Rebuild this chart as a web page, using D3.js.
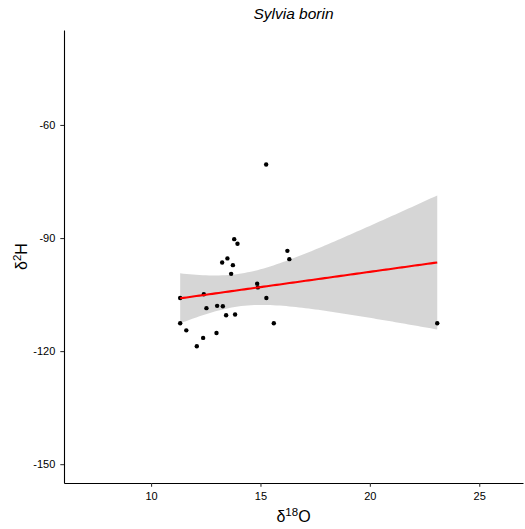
<!DOCTYPE html>
<html><head><meta charset="utf-8">
<script src="https://cdn.jsdelivr.net/npm/d3@7"></script>
<style>body{margin:0;background:#fff;} text{font-family:"Liberation Sans",Arial,sans-serif;}</style>
</head><body>
<svg id="c" width="525" height="529"></svg>
<script>
const title = "Sylvia borin";
const d18O = [15.26,13.80,13.95,16.23,16.32,13.49,13.25,13.74,13.66,14.85,14.88,12.41,11.33,15.27,12.53,13.02,13.28,13.43,13.84,11.33,15.61,11.61,12.99,12.38,12.09,23.08];
const d2H  = [-70.5,-90.3,-91.5,-93.4,-95.6,-95.4,-96.5,-97.2,-99.5,-102.1,-103.1,-104.9,-105.9,-105.9,-108.6,-108.0,-108.1,-110.5,-110.3,-112.6,-112.6,-114.5,-115.2,-116.5,-118.7,-112.6];
const xTicks = [10,15,20,25];
const yTicks = [-60,-90,-120,-150];
const xDomain = [6.02,27.0];
const yDomain = [-155.0,-34.8];

const svg = d3.select("#c");
const m = {l:64, r:523, t:30, b:483};
const x = d3.scaleLinear().domain(xDomain).range([m.l, m.r]);
const y = d3.scaleLinear().domain(yDomain).range([m.b, m.t]);

// OLS fit with 95% CI
const n = d18O.length;
const mx = d3.mean(d18O), my = d3.mean(d2H);
let sxx=0, sxy=0;
for (let i=0;i<n;i++){ sxx += (d18O[i]-mx)**2; sxy += (d18O[i]-mx)*(d2H[i]-my); }
const b = sxy/sxx, a = my - b*mx;
let sse=0; for (let i=0;i<n;i++){ sse += (d2H[i]-a-b*d18O[i])**2; }
const s = Math.sqrt(sse/(n-2));
const tq = 2.0639;
const xmin = d3.min(d18O), xmax = d3.max(d18O);
const grid = d3.range(0,81).map(k => xmin + (xmax-xmin)*k/80);
const band = grid.map(xv => {
  const fit = a + b*xv;
  const se = s*Math.sqrt(1/n + (xv-mx)**2/sxx);
  return {x:xv, fit, lo: fit - tq*se, hi: fit + tq*se};
});

svg.append("path").datum(band)
  .attr("d", d3.area().x(d=>x(d.x)).y0(d=>y(d.lo)).y1(d=>y(d.hi)))
  .attr("fill","#999999").attr("fill-opacity",0.4);

svg.append("g").selectAll("circle").data(d18O.map((v,i)=>[v,d2H[i]])).join("circle")
  .attr("cx",d=>x(d[0])).attr("cy",d=>y(d[1])).attr("r",2.2).attr("fill","#000");

svg.append("path").datum(band)
  .attr("d", d3.line().x(d=>x(d.x)).y(d=>y(d.fit)))
  .attr("fill","none").attr("stroke","#ff0000").attr("stroke-width",2.1);

// axes
const fmt = d => String(d);
const xa = svg.append("g").attr("transform",`translate(0,${m.b})`)
  .call(d3.axisBottom(x).tickValues(xTicks).tickFormat(fmt).tickSize(3.7).tickPadding(5).tickSizeOuter(0));
const ya = svg.append("g").attr("transform",`translate(${m.l},0)`)
  .call(d3.axisLeft(y).tickValues(yTicks).tickFormat(fmt).tickSize(3.7).tickPadding(5).tickSizeOuter(0));
[xa,ya].forEach(g=>{
  g.select(".domain").attr("stroke","#000").attr("stroke-width",1.1);
  g.selectAll(".tick line").attr("stroke","#333").attr("stroke-width",1.1);
  g.selectAll(".tick text").attr("fill","#000").style("font-size","11px").style("font-family","Liberation Sans, Arial, sans-serif");
});

// titles
svg.append("text").attr("x",(m.l+m.r)/2).attr("y",19).attr("text-anchor","middle")
  .style("font-size","15.5px").style("font-style","italic").text(title);

const xt = svg.append("text").attr("x",(m.l+m.r)/2).attr("y",522).attr("text-anchor","middle").style("font-size","16px");
xt.append("tspan").text("δ");
xt.append("tspan").attr("dy",-6).style("font-size","11.5px").text("18");
xt.append("tspan").attr("dy",6).text("O");

const yt = svg.append("text").attr("transform",`translate(27,${(m.t+m.b)/2}) rotate(-90)`).attr("text-anchor","middle").style("font-size","16px");
yt.append("tspan").text("δ");
yt.append("tspan").attr("dy",-6).style("font-size","11.5px").text("2");
yt.append("tspan").attr("dy",6).text("H");
</script>
</body></html>
